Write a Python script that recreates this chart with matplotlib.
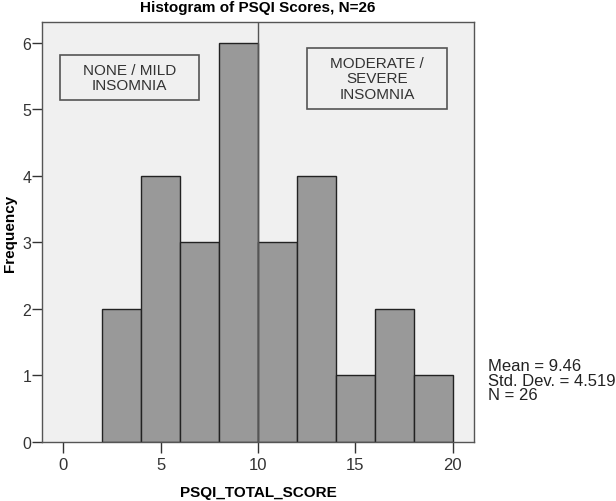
import matplotlib
matplotlib.use("Agg")
import matplotlib.pyplot as plt
from matplotlib.patches import Rectangle
import numpy as np

plt.rcParams["font.family"] = ["Liberation Sans", "DejaVu Sans"]

# histogram data (bins of width 2)
bin_edges = [2, 4, 6, 8, 10, 12, 14, 16, 18, 20]
counts = [2, 4, 3, 6, 3, 4, 1, 2, 1]
cutoff = 10
stats_text = "Mean = 9.46\nStd. Dev. = 4.519\nN = 26"

fig = plt.figure(figsize=(6.16, 5.02), dpi=100)
ax = fig.add_axes([0.0677, 0.1181, 0.7023, 0.8355])
ax.set_facecolor("#f0f0f0")

lefts = np.array(bin_edges[:-1])
widths = np.diff(bin_edges)
ax.bar(lefts, counts, width=widths, align="edge", color="#999999",
       edgecolor="#222222", linewidth=1.0, zorder=2)
ax.axvline(cutoff, color="#555555", linewidth=1.0, zorder=3)

ax.set_xlim(-1.11, 21.11)
ax.set_ylim(0, 6.31)
ax.set_xticks([0, 5, 10, 15, 20])
ax.set_yticks([0, 1, 2, 3, 4, 5, 6])
ax.tick_params(axis="x", direction="out", length=7.7, width=1, labelsize=12,
               colors="#333333", pad=3)
ax.tick_params(axis="y", direction="out", length=7, width=1, labelsize=11.5,
               colors="#333333", pad=0.5)
for s in ax.spines.values():
    s.set_color("#555555")
    s.set_linewidth(1.0)

ax.set_xlabel("PSQI_TOTAL_SCORE", fontsize=11, fontweight="bold")
ax.xaxis.set_label_coords(0.5, -0.12)
ax.xaxis.label.set_va("center")
ax.set_ylabel("Frequency", fontsize=11, fontweight="bold")
ax.yaxis.set_label_coords(-0.074, 0.5)
ax.yaxis.label.set_va("center")
fig.text(0.418, 0.985, "Histogram of PSQI Scores, N=26", ha="center", va="center",
         fontsize=11, fontweight="bold")

# annotation boxes (axes fraction)
for (bx, by, bw, bh, label) in [
    (0.0423, 0.8147, 0.3213, 0.1073, "NONE / MILD\nINSOMNIA"),
    (0.6133, 0.7933, 0.3236, 0.1454, "MODERATE /\nSEVERE\nINSOMNIA"),
]:
    ax.add_patch(Rectangle((bx, by), bw, bh, transform=ax.transAxes,
                           facecolor="#f0f0f0", edgecolor="#555555",
                           linewidth=1.2, zorder=4))
    ax.text(bx + bw / 2, by + bh / 2, label, transform=ax.transAxes,
            ha="center", va="center", fontsize=11, color="#333333",
            linespacing=1.1, zorder=5)

fig.text(0.793, 0.241, stats_text, ha="left", va="center", fontsize=12,
         color="#222222", linespacing=0.95)

plt.savefig("out.png", dpi=100)
